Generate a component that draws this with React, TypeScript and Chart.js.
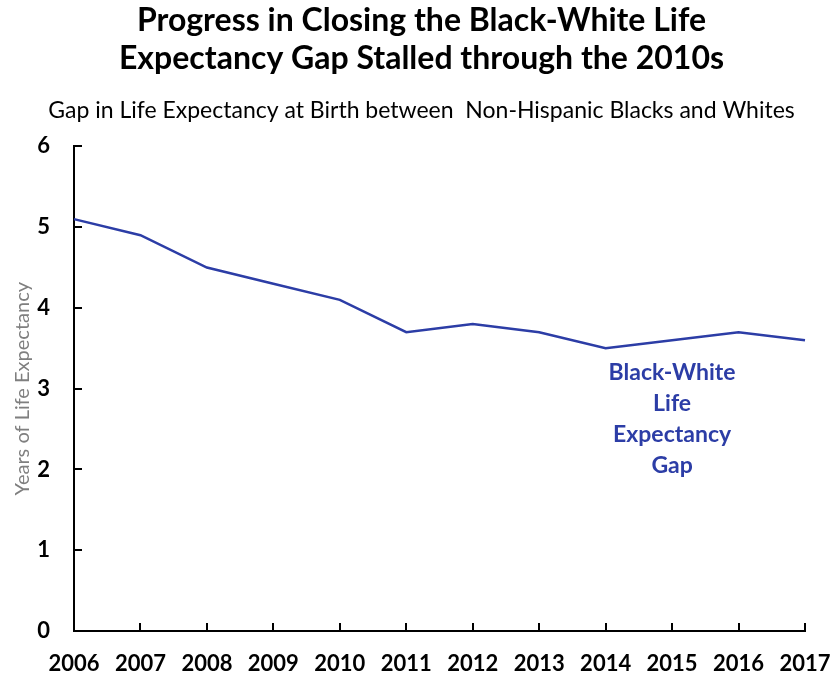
import React, { useEffect, useRef } from "react";
import { Chart, registerables } from "chart.js";

Chart.register(...registerables);

const years = ["2006", "2007", "2008", "2009", "2010", "2011", "2012", "2013", "2014", "2015", "2016", "2017"];
const gapValues = [5.1, 4.9, 4.5, 4.3, 4.1, 3.7, 3.8, 3.7, 3.5, 3.6, 3.7, 3.6];
const titleLines = ["Progress in Closing the Black-White Life", "Expectancy Gap Stalled through the 2010s"];
const subtitleText = "Gap in Life Expectancy at Birth between  Non-Hispanic Blacks and Whites";
const yAxisTitle = "Years of Life Expectancy";
const seriesLabelLines = ["Black-White", "Life", "Expectancy", "Gap"];
const seriesLabelAnchor = { x: 9, y: 2.63 };

const LINE_COLOR = "#2C3DA6";
const FONT = "Lato, 'Open Sans', sans-serif";

const inwardTicks = {
  id: "inwardTicks",
  afterDraw(chart: any) {
    const { ctx, scales, chartArea } = chart;
    const xs = scales.x;
    const ys = scales.y;
    const axisX = chartArea.left;
    const axisY = chartArea.bottom;
    ctx.save();
    ctx.strokeStyle = "#000";
    ctx.lineWidth = 2;
    ys.ticks.forEach((_t: any, i: number) => {
      const py = Math.round(ys.getPixelForTick(i));
      ctx.beginPath();
      ctx.moveTo(axisX, py);
      ctx.lineTo(axisX + 8, py);
      ctx.stroke();
    });
    xs.ticks.forEach((_t: any, i: number) => {
      const px = Math.round(xs.getPixelForTick(i));
      ctx.beginPath();
      ctx.moveTo(px, axisY);
      ctx.lineTo(px, axisY - 8);
      ctx.stroke();
    });
    ctx.restore();
  },
};

const seriesLabel = {
  id: "seriesLabel",
  afterDraw(chart: any) {
    const { ctx, scales } = chart;
    const cx = scales.x.getPixelForValue(seriesLabelAnchor.x);
    const cy = scales.y.getPixelForValue(seriesLabelAnchor.y);
    ctx.save();
    ctx.fillStyle = LINE_COLOR;
    ctx.font = `bold 23px ${FONT}`;
    ctx.textAlign = "center";
    ctx.textBaseline = "middle";
    seriesLabelLines.forEach((line, i) => {
      ctx.fillText(line, cx, cy + (i - 1.5) * 31);
    });
    ctx.restore();
  },
};

export default function App() {
  const ref = useRef<HTMLCanvasElement | null>(null);
  useEffect(() => {
    document.body.style.margin = "0";
    if (!ref.current) return;
    const chart = new Chart(ref.current, {
      type: "line",
      data: {
        labels: years,
        datasets: [
          {
            label: "Black-White Life Expectancy Gap",
            data: gapValues,
            borderColor: LINE_COLOR,
            borderWidth: 2.5,
            pointRadius: 0,
            tension: 0,
            fill: false,
          },
        ],
      },
      options: {
        animation: false,
        responsive: false,
        maintainAspectRatio: false,
        layout: { padding: { left: 11, right: 0, top: 1, bottom: -24 } },
        plugins: {
          legend: { display: false },
          tooltip: { enabled: false },
          title: {
            display: true,
            text: titleLines,
            color: "#000",
            font: { family: FONT, size: 32, weight: "bold", lineHeight: 1.2 },
            padding: { top: 0, bottom: 19 },
          },
          subtitle: {
            display: true,
            text: subtitleText,
            color: "#000",
            font: { family: FONT, size: 23, weight: "normal", lineHeight: 1.2 },
            padding: { top: 0, bottom: 22 },
          },
        },
        scales: {
          x: {
            type: "category",
            offset: false,
            grid: { display: false, drawTicks: false },
            border: { display: true, color: "#000", width: 2 },
            afterFit(scale: any) {
              scale.paddingRight = 27;
            },
            ticks: {
              color: "#000",
              font: { family: FONT, size: 22, weight: "bold", lineHeight: 1 },
              padding: 22,
              maxRotation: 0,
              autoSkip: false,
            },
          },
          y: {
            min: 0,
            max: 6,
            grid: { display: false, drawTicks: false },
            border: { display: true, color: "#000", width: 2 },
            afterFit(scale: any) {
              scale.width = 63;
            },
            ticks: {
              stepSize: 1,
              color: "#000",
              font: { family: FONT, size: 22, weight: "bold" },
              padding: 24,
            },
            title: {
              display: true,
              text: yAxisTitle,
              color: "#7F7F7F",
              font: { family: FONT, size: 20, weight: "normal", lineHeight: 1.2 },
              padding: { top: 0, bottom: 3 },
            },
          },
        },
      },
      plugins: [inwardTicks, seriesLabel],
    });
    return () => chart.destroy();
  }, []);
  return (
    <div style={{ width: 832, height: 673 }}>
      <canvas ref={ref} width={832} height={673} style={{ display: "block" }} />
    </div>
  );
}
